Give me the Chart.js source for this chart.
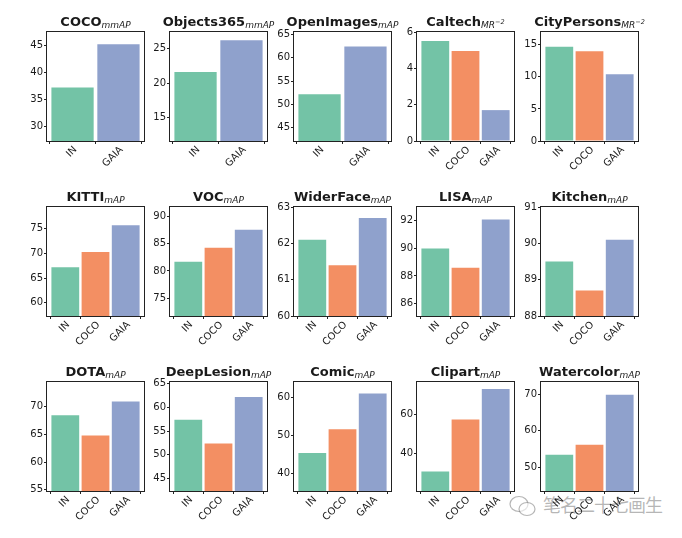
<!DOCTYPE html>
<html><head><meta charset="utf-8">
<script src="https://cdn.jsdelivr.net/npm/chart.js@4/dist/chart.umd.min.js"></script>
<style>
html,body{margin:0;padding:0;background:#fff;}
#wrap{position:relative;width:682px;height:538px;overflow:hidden;background:#fff;}
#wrap canvas{position:absolute;}
#wm{position:absolute;left:543px;top:493px;font-family:'Noto Sans CJK SC';font-size:18px;letter-spacing:-1px;color:rgba(110,110,110,0.5);white-space:nowrap;line-height:22px;}
#wmi{position:absolute;left:508px;top:494px;}
</style></head><body><div id="wrap">
<svg id="wmi" width="30" height="24" viewBox="0 0 30 24"><g fill="none" stroke="rgba(110,110,110,0.5)" stroke-width="1.2"><ellipse cx="11" cy="10" rx="9" ry="7.5"/><ellipse cx="19" cy="15" rx="8" ry="6.5" fill="rgba(255,255,255,0.6)"/></g></svg>
<div id="wm">笔名二十七画生</div></div>
<script>
// ---- data ----
const titles = ['COCO','Objects365','OpenImages','Caltech','CityPersons',
                'KITTI','VOC','WiderFace','LISA','Kitchen',
                'DOTA','DeepLesion','Comic','Clipart','Watercolor'];
const subs   = ['mmAP','mmAP','mAP','MR','MR',
                'mAP','mAP','mAP','mAP','mAP',
                'mAP','mAP','mAP','mAP','mAP'];
const sups   = ['','','','\u22122','\u22122','','','','','','','','','',''];
const catsTwo   = ['IN','GAIA'];
const catsThree = ['IN','COCO','GAIA'];

const valCOCO        = [37.2, 45.3];
const valObjects365  = [21.6, 26.2];
const valOpenImages  = [52.2, 62.4];
const valCaltech     = [5.5, 4.95, 1.7];
const valCityPersons = [14.7, 14.0, 10.4];
const valKITTI       = [67.2, 70.3, 75.7];
const valVOC         = [81.7, 84.3, 87.6];
const valWiderFace   = [62.1, 61.4, 62.7];
const valLISA        = [90.0, 88.6, 92.1];
const valKitchen     = [89.5, 88.7, 90.1];
const valDOTA        = [68.4, 64.8, 70.9];
const valDeepLesion  = [57.4, 52.4, 62.2];
const valComic       = [45.5, 51.7, 61.1];
const valClipart     = [31.1, 57.3, 72.8];
const valWatercolor  = [53.4, 56.1, 69.9];

const tickCOCO = [30,35,40,45], tickObjects365 = [15,20,25], tickOpenImages = [45,50,55,60,65];
const tickCaltech = [0,2,4,6], tickCityPersons = [0,5,10,15], tickKITTI = [60,65,70,75];
const tickVOC = [75,80,85,90], tickWiderFace = [60,61,62,63], tickLISA = [86,88,90,92];
const tickKitchen = [88,89,90,91], tickDOTA = [55,60,65,70], tickDeepLesion = [45,50,55,60,65];
const tickComic = [40,50,60], tickClipart = [40,60], tickWatercolor = [50,60,70];

const yMin = [27.2, 11.6, 42.2, 0, 0, 57.3, 71.7, 60, 85.1, 88, 54.8, 42.4, 35.5, 21.2, 43.4];
const yMax = [47.6, 27.4, 65.5, 6, 17, 79.4, 91.8, 63, 93, 91, 74.4, 65.35, 64.1, 76.3, 73.4];

const allVals = [valCOCO,valObjects365,valOpenImages,valCaltech,valCityPersons,valKITTI,valVOC,
  valWiderFace,valLISA,valKitchen,valDOTA,valDeepLesion,valComic,valClipart,valWatercolor];
const allTicks = [tickCOCO,tickObjects365,tickOpenImages,tickCaltech,tickCityPersons,tickKITTI,tickVOC,
  tickWiderFace,tickLISA,tickKitchen,tickDOTA,tickDeepLesion,tickComic,tickClipart,tickWatercolor];

const colorsTwo = ['#73c3a6','#8fa1cc'];
const colorsThree = ['#73c3a6','#f38f63','#8fa1cc'];

// ---- layout ----
const colL = [47,170,294,417,541];
const rowT = [32,207,382];
const EX=22, PL=40, PT=32, PW=97, PH=109, PB=40, PR=4;
const FONT = "'DejaVu Sans', sans-serif";
const TXT = '#1a1a1a';

const wrap = document.getElementById('wrap');

const framePlugin = {
  id:'frame',
  afterDraw(chart){
    const a = chart.chartArea, ctx = chart.ctx;
    ctx.save();
    ctx.strokeStyle = '#222'; ctx.lineWidth = 1;
    ctx.strokeRect(Math.round(a.left)-0.5, Math.round(a.top)-0.5,
                   Math.round(a.right-a.left)+1, Math.round(a.bottom-a.top)+1);
    ctx.restore();
  }
};

function makeTitlePlugin(i){
  return {
    id:'ptitle'+i,
    afterDraw(chart){
      const a = chart.chartArea, ctx = chart.ctx;
      const cx = (a.left+a.right)/2, by = a.top - 6;
      ctx.save();
      ctx.fillStyle = TXT; ctx.textBaseline = 'alphabetic'; ctx.textAlign = 'left';
      const fMain = "bold 13px " + FONT, fSub = "italic 9px " + FONT, fSup = "italic 6.5px " + FONT;
      ctx.font = fMain; const w1 = ctx.measureText(titles[i]).width;
      ctx.font = fSub; const w2 = ctx.measureText(subs[i]).width;
      ctx.font = fSup; const w3 = sups[i] ? ctx.measureText(sups[i]).width : 0;
      let x = cx - (w1+w2+w3)/2;
      ctx.font = fMain; ctx.fillText(titles[i], x, by); x += w1;
      ctx.font = fSub; ctx.fillText(subs[i], x, by+2); x += w2;
      if (sups[i]) { ctx.font = fSup; ctx.fillText(sups[i], x, by-2); }
      ctx.restore();
    }
  };
}

allVals.forEach((vals, i) => {
  const r = Math.floor(i/5), c = i%5;
  const cats = vals.length === 2 ? catsTwo : catsThree;
  const n = cats.length, w = 0.92, m = 0.05*(n-1+w);
  const cv = document.createElement('canvas');
  const W = EX+PL+PW+PR+EX, H = PT+PH+PB;
  cv.width = W; cv.height = H;
  cv.style.width = W+'px'; cv.style.height = H+'px';
  cv.style.left = (colL[c]-PL-EX)+'px'; cv.style.top = (rowT[r]-PT)+'px';
  wrap.appendChild(cv);
  new Chart(cv, {
    type:'bar',
    data:{datasets:[{
      data: vals.map((v,k)=>({x:k, y:v})),
      backgroundColor: n===2 ? colorsTwo : colorsThree,
      borderWidth:0, barPercentage:w, categoryPercentage:1
    }]},
    options:{
      responsive:false, animation:false, devicePixelRatio:1,
      layout:{padding:{left:EX, top:PT, right:PR+EX, bottom:0}},
      plugins:{legend:{display:false}, tooltip:{enabled:false}, title:{display:false}},
      scales:{
        x:{
          type:'linear', min:-w/2-m, max:n-1+w/2+m, offset:false,
          afterBuildTicks: s => { s.ticks = cats.map((_,k)=>({value:k})); },
          afterFit: s => { s.height = PB; },
          ticks:{autoSkip:false, minRotation:45, maxRotation:45, padding:0, labelOffset:3,
                 font:{family:FONT, size:10}, color:TXT,
                 callback: v => cats[v]},
          grid:{drawOnChartArea:false, drawTicks:true, tickLength:3, color:'#222'},
          border:{display:false}
        },
        y:{
          min:yMin[i], max:yMax[i],
          afterBuildTicks: s => { s.ticks = allTicks[i].map(v=>({value:v})); },
          afterFit: s => { s.width = PL; },
          ticks:{padding:1, font:{family:FONT, size:10}, color:TXT},
          grid:{drawOnChartArea:false, drawTicks:true, tickLength:3, color:'#222'},
          border:{display:false}
        }
      }
    },
    plugins:[framePlugin, makeTitlePlugin(i)]
  });
});
</script>
</body></html>
